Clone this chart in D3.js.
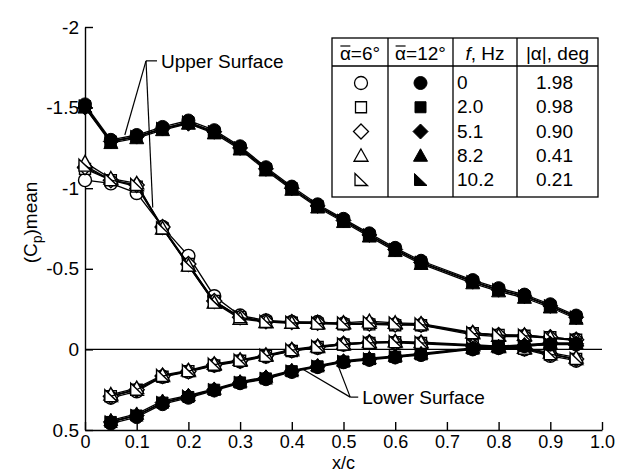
<!DOCTYPE html>
<html>
<head>
<meta charset="utf-8">
<script src="https://cdn.jsdelivr.net/npm/d3@7"></script>
<style>
  body { margin: 0; background: #fff; }
  svg { display: block; font-family: "Liberation Sans", Arial, Helvetica, sans-serif; }
</style>
</head>
<body>
<svg id="chart"></svg>
<script>
// chordwise pressure taps (x/c) -- no tap at 0.70
const xUpper = [0, 0.05, 0.10, 0.15, 0.20, 0.25, 0.30, 0.35, 0.40, 0.45, 0.50, 0.55, 0.60, 0.65, 0.75, 0.80, 0.85, 0.90, 0.95];
const xLower = [0.05, 0.10, 0.15, 0.20, 0.25, 0.30, 0.35, 0.40, 0.45, 0.50, 0.55, 0.60, 0.65, 0.75, 0.80, 0.85, 0.90, 0.95];

// mean alpha = 6 deg, upper surface
const up6_f0   = [-1.05, -1.03, -0.97, -0.76, -0.58, -0.33, -0.21, -0.18, -0.17, -0.17, -0.16, -0.16, -0.155, -0.15, -0.09, -0.08, -0.08, -0.07, -0.06];
const up6_f2   = [-1.12, -1.05, -1.01, -0.75, -0.53, -0.30, -0.20, -0.17, -0.165, -0.16, -0.155, -0.155, -0.15, -0.15, -0.10, -0.09, -0.085, -0.075, -0.06];
const up6_f5   = [-1.13, -1.05, -1.02, -0.76, -0.53, -0.30, -0.20, -0.175, -0.17, -0.165, -0.16, -0.16, -0.155, -0.155, -0.10, -0.09, -0.085, -0.075, -0.06];
const up6_f8   = [-1.16, -1.06, -1.03, -0.75, -0.52, -0.29, -0.19, -0.17, -0.165, -0.165, -0.165, -0.175, -0.165, -0.16, -0.105, -0.085, -0.09, -0.075, -0.06];
const up6_f10  = [-1.14, -1.05, -1.02, -0.75, -0.52, -0.29, -0.20, -0.17, -0.165, -0.16, -0.16, -0.165, -0.16, -0.155, -0.10, -0.09, -0.085, -0.07, -0.055];
// mean alpha = 6 deg, lower surface
const lo6_f0   = [0.30, 0.26, 0.17, 0.14, 0.10, 0.075, 0.045, 0.01, -0.01, -0.03, -0.04, -0.04, -0.035, -0.02, -0.01, 0.00, 0.04, 0.07];
const lo6_f2   = [0.29, 0.25, 0.17, 0.135, 0.10, 0.07, 0.04, 0.01, -0.015, -0.03, -0.04, -0.045, -0.04, -0.025, -0.015, -0.005, 0.03, 0.06];
const lo6_f5   = [0.29, 0.25, 0.165, 0.135, 0.095, 0.07, 0.04, 0.005, -0.015, -0.035, -0.045, -0.045, -0.04, -0.025, -0.015, -0.005, 0.03, 0.06];
const lo6_f8   = [0.28, 0.24, 0.16, 0.13, 0.09, 0.065, 0.035, 0.00, -0.02, -0.035, -0.045, -0.05, -0.045, -0.03, -0.02, -0.01, 0.02, 0.05];
const lo6_f10  = [0.29, 0.25, 0.165, 0.135, 0.095, 0.07, 0.04, 0.005, -0.015, -0.03, -0.04, -0.045, -0.04, -0.025, -0.015, -0.005, 0.03, 0.06];
// mean alpha = 12 deg, upper surface
const up12_f0  = [-1.52, -1.30, -1.33, -1.38, -1.42, -1.36, -1.26, -1.13, -1.01, -0.90, -0.81, -0.72, -0.63, -0.55, -0.43, -0.38, -0.34, -0.28, -0.21];
const up12_f2  = [-1.51, -1.29, -1.32, -1.37, -1.41, -1.35, -1.25, -1.12, -1.00, -0.89, -0.80, -0.71, -0.62, -0.54, -0.42, -0.37, -0.33, -0.27, -0.20];
const up12_f5  = [-1.50, -1.29, -1.32, -1.37, -1.40, -1.35, -1.25, -1.12, -1.00, -0.89, -0.80, -0.71, -0.62, -0.54, -0.42, -0.37, -0.33, -0.27, -0.20];
const up12_f8  = [-1.50, -1.28, -1.31, -1.36, -1.40, -1.34, -1.24, -1.11, -0.99, -0.88, -0.79, -0.70, -0.61, -0.53, -0.41, -0.36, -0.32, -0.26, -0.19];
const up12_f10 = [-1.51, -1.29, -1.32, -1.37, -1.41, -1.35, -1.25, -1.12, -1.00, -0.89, -0.80, -0.71, -0.62, -0.54, -0.42, -0.37, -0.33, -0.27, -0.20];
// mean alpha = 12 deg, lower surface
const lo12_f0  = [0.46, 0.42, 0.34, 0.30, 0.255, 0.21, 0.185, 0.14, 0.11, 0.08, 0.065, 0.05, 0.035, 0.00, -0.01, -0.02, -0.03, -0.03];
const lo12_f2  = [0.45, 0.41, 0.33, 0.295, 0.25, 0.205, 0.18, 0.135, 0.105, 0.075, 0.06, 0.045, 0.03, -0.005, -0.015, -0.02, -0.03, -0.035];
const lo12_f5  = [0.45, 0.41, 0.33, 0.29, 0.25, 0.205, 0.175, 0.135, 0.105, 0.075, 0.06, 0.045, 0.03, -0.005, -0.015, -0.025, -0.035, -0.035];
const lo12_f8  = [0.44, 0.40, 0.32, 0.285, 0.245, 0.20, 0.17, 0.13, 0.10, 0.07, 0.055, 0.04, 0.025, -0.01, -0.02, -0.03, -0.04, -0.04];
const lo12_f10 = [0.45, 0.41, 0.33, 0.29, 0.25, 0.205, 0.18, 0.135, 0.105, 0.075, 0.06, 0.045, 0.03, -0.005, -0.015, -0.025, -0.035, -0.035];

// legend table columns
const markers   = ['circle', 'square', 'diamond', 'triangle', 'rtriangle'];
const freqs     = ['0', '2.0', '5.1', '8.2', '10.2'];
const amps      = ['1.98', '0.98', '0.90', '0.41', '0.21'];

// ticks
const xTicks = [0, 0.1, 0.2, 0.3, 0.4, 0.5, 0.6, 0.7, 0.8, 0.9, 1.0];
const xTickLabels = ['0', '0.1', '0.2', '0.3', '0.4', '0.5', '0.6', '0.7', '0.8', '0.9', '1.0'];
const yTicks = [-2, -1.5, -1, -0.5, 0, 0.5];
const yTickLabels = ['-2', '-1.5', '-1', '-0.5', '0', '0.5'];

const series = [
  { open: true,  marker: 'circle',    upper: up6_f0,   lower: lo6_f0 },
  { open: true,  marker: 'square',    upper: up6_f2,   lower: lo6_f2 },
  { open: true,  marker: 'diamond',   upper: up6_f5,   lower: lo6_f5 },
  { open: true,  marker: 'triangle',  upper: up6_f8,   lower: lo6_f8 },
  { open: true,  marker: 'rtriangle', upper: up6_f10,  lower: lo6_f10 },
  { open: false, marker: 'circle',    upper: up12_f0,  lower: lo12_f0 },
  { open: false, marker: 'square',    upper: up12_f2,  lower: lo12_f2 },
  { open: false, marker: 'diamond',   upper: up12_f5,  lower: lo12_f5 },
  { open: false, marker: 'triangle',  upper: up12_f8,  lower: lo12_f8 },
  { open: false, marker: 'rtriangle', upper: up12_f10, lower: lo12_f10 }
];

const width = 622, height = 474;
const font = 19;
const xFont = 18;

const svg = d3.select('#chart')
  .attr('width', width)
  .attr('height', height)
  .attr('viewBox', `0 0 ${width} ${height}`);

svg.append('rect').attr('width', width).attr('height', height).attr('fill', '#fff');

const x = d3.scaleLinear().domain([0, 1]).range([85, 602]);
const y = d3.scaleLinear().domain([-2, 0.5]).range([27, 430]);

function markerPath(type) {
  switch (type) {
    case 'circle': return d3.symbol(d3.symbolCircle, Math.PI * 6.5 * 6.5)();
    case 'square': return 'M-5.5,-5.5H5.5V5.5H-5.5Z';
    case 'diamond': return 'M0,-7.5L7.5,0L0,7.5L-7.5,0Z';
    case 'triangle': return 'M0,-7L7,5.5L-7,5.5Z';
    case 'rtriangle': return 'M-6,-6.5L6.5,5.5L-6,5.5Z';
  }
}

// zero line
svg.append('line')
  .attr('x1', x(0)).attr('x2', x(1))
  .attr('y1', y(0)).attr('y2', y(0))
  .attr('stroke', '#000').attr('stroke-width', 1.4);

// axes with inward ticks
const yAxis = svg.append('g')
  .attr('transform', `translate(${x(0)},0)`)
  .call(d3.axisLeft(y).tickValues(yTicks).tickFormat((d, i) => yTickLabels[i])
    .tickSizeInner(-8).tickSizeOuter(0).tickPadding(6));

const xAxis = svg.append('g')
  .attr('transform', `translate(0,${y(0.5)})`)
  .call(d3.axisBottom(x).tickValues(xTicks).tickFormat((d, i) => xTickLabels[i])
    .tickSizeInner(-8).tickSizeOuter(0).tickPadding(5));

[yAxis, xAxis].forEach(a => {
  a.attr('font-family', null).attr('font-size', null);
  a.select('.domain').attr('stroke', '#000').attr('stroke-width', 1.4);
  a.selectAll('.tick line').attr('stroke', '#000').attr('stroke-width', 1.4);
  a.selectAll('.tick text').attr('fill', '#000').attr('font-size', font);
});
xAxis.selectAll('.tick text').attr('font-size', xFont);

// axis titles
svg.append('text')
  .attr('x', (x(0) + x(1)) / 2)
  .attr('y', 469)
  .attr('text-anchor', 'middle')
  .attr('font-size', xFont)
  .text('x/c');

const yTitle = svg.append('text')
  .attr('transform', `translate(37,${(y(-2) + y(0.5)) / 2 - 6}) rotate(-90)`)
  .attr('text-anchor', 'middle')
  .attr('font-size', font);
yTitle.append('tspan').text('(C');
yTitle.append('tspan').attr('font-size', 14).attr('dy', 5).text('p');
yTitle.append('tspan').attr('dy', -5).text(')mean');

// curves
const line = d3.line().x(d => x(d[0])).y(d => y(d[1]));
const plot = svg.append('g');

series.forEach(s => {
  [[xUpper, s.upper], [xLower, s.lower]].forEach(([xs, cps]) => {
    const pts = xs.map((xv, i) => [xv, cps[i]]);
    plot.append('path')
      .attr('d', line(pts))
      .attr('fill', 'none')
      .attr('stroke', '#000')
      .attr('stroke-width', 1.3);
    plot.selectAll(null)
      .data(pts)
      .join('path')
      .attr('transform', d => `translate(${x(d[0])},${y(d[1])})`)
      .attr('d', markerPath(s.marker))
      .attr('fill', s.open ? '#fff' : '#000')
      .attr('stroke', '#000')
      .attr('stroke-width', s.open ? 1.4 : 1);
  });
});

// annotations with leader lines (anchored in data units)
function leader(from, tos, dashTo) {
  const g = svg.append('g').attr('stroke', '#000').attr('stroke-width', 1.2).attr('fill', 'none');
  tos.forEach(t => g.append('line')
    .attr('x1', x(from[0])).attr('y1', y(from[1]))
    .attr('x2', x(t[0])).attr('y2', y(t[1])));
  g.append('line')
    .attr('x1', x(from[0])).attr('y1', y(from[1]))
    .attr('x2', x(from[0]) + dashTo).attr('y2', y(from[1]));
}

leader([0.118, -1.79], [[0.077, -1.33], [0.131, -0.88]], 11);
svg.append('text')
  .attr('x', x(0.118) + 15).attr('y', y(-1.79) + 7)
  .attr('font-size', font)
  .text('Upper Surface');

leader([0.513, 0.296], [[0.419, 0.118], [0.487, 0.08]], 8);
svg.append('text')
  .attr('x', x(0.513) + 12).attr('y', y(0.296) + 7)
  .attr('font-size', font)
  .text('Lower Surface');

// legend table
const tbl = { left: 332, right: 598, top: 38, head: 66, bottom: 197, cols: [388, 453, 517] };
const lg = svg.append('g');
lg.append('rect')
  .attr('x', tbl.left).attr('y', tbl.top)
  .attr('width', tbl.right - tbl.left).attr('height', tbl.bottom - tbl.top)
  .attr('fill', '#fff').attr('stroke', '#000').attr('stroke-width', 1.3);
lg.append('line')
  .attr('x1', tbl.left).attr('x2', tbl.right)
  .attr('y1', tbl.head).attr('y2', tbl.head)
  .attr('stroke', '#000').attr('stroke-width', 1.3);
tbl.cols.forEach(cx => lg.append('line')
  .attr('x1', cx).attr('x2', cx)
  .attr('y1', tbl.top).attr('y2', tbl.bottom)
  .attr('stroke', '#000').attr('stroke-width', 1.3));

const colCenters = [
  (tbl.left + tbl.cols[0]) / 2,
  (tbl.cols[0] + tbl.cols[1]) / 2,
  (tbl.cols[1] + tbl.cols[2]) / 2,
  (tbl.cols[2] + tbl.right) / 2
];
const headBase = 60;

function alphaHeader(cx, deg) {
  const t = lg.append('text')
    .attr('x', cx).attr('y', headBase)
    .attr('text-anchor', 'middle')
    .attr('font-size', font)
    .text(`α=${deg}°`);
  const e = t.node().getExtentOfChar(0);
  lg.append('line')
    .attr('x1', e.x + 0.5).attr('x2', e.x + e.width - 0.5)
    .attr('y1', headBase - 14).attr('y2', headBase - 14)
    .attr('stroke', '#000').attr('stroke-width', 1.2);
}
alphaHeader(colCenters[0], 6);
alphaHeader(colCenters[1], 12);

const fh = lg.append('text')
  .attr('x', colCenters[2]).attr('y', headBase)
  .attr('text-anchor', 'middle')
  .attr('font-size', font);
fh.append('tspan').attr('font-style', 'italic').text('f');
fh.append('tspan').text(', Hz');

lg.append('text')
  .attr('x', colCenters[3]).attr('y', headBase)
  .attr('text-anchor', 'middle')
  .attr('font-size', font)
  .text('|α|, deg');

const rowY = d3.scalePoint().domain(d3.range(markers.length)).range([83, 180]);

markers.forEach((m, i) => {
  const cy = rowY(i);
  lg.append('path')
    .attr('transform', `translate(${colCenters[0] + 1},${cy})`)
    .attr('d', markerPath(m))
    .attr('fill', '#fff').attr('stroke', '#000').attr('stroke-width', 1.3);
  lg.append('path')
    .attr('transform', `translate(${colCenters[1]},${cy})`)
    .attr('d', markerPath(m))
    .attr('fill', '#000').attr('stroke', '#000').attr('stroke-width', 1);
  lg.append('text')
    .attr('x', tbl.cols[1] + 4).attr('y', cy + 6)
    .attr('font-size', font)
    .text(freqs[i]);
  lg.append('text')
    .attr('x', colCenters[3] - 3).attr('y', cy + 6)
    .attr('text-anchor', 'middle')
    .attr('font-size', font)
    .text(amps[i]);
});
</script>
</body>
</html>
